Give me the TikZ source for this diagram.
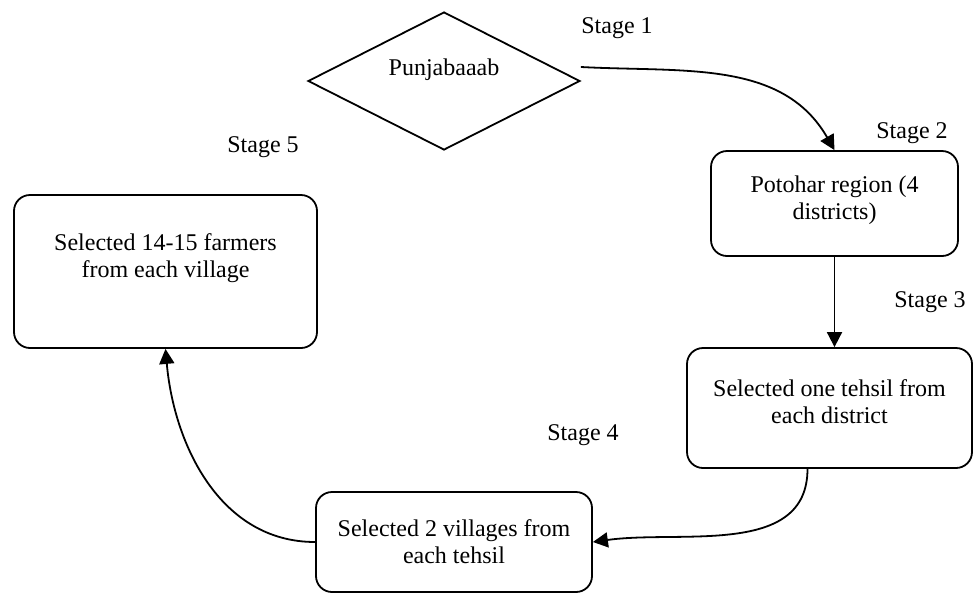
\documentclass[tikz,border=0pt]{standalone}
\usepackage{fontspec}
\setmainfont{Liberation Serif}
\usetikzlibrary{arrows.meta, shapes.geometric}

\begin{document}
\begin{tikzpicture}[
    x=0.5pt,
    y=-0.5pt,
    font=\fontsize{12}{13.5}\selectfont,
    box/.style={
        draw,
        line width=0.9pt,
        rounded corners=8pt,
        align=center,
        inner sep=0pt
    },
    losango/.style={
        draw,
        diamond,
        aspect=2,
        line width=0.9pt,
        inner sep=0pt,
        minimum width=136pt,
        minimum height=69pt,
        text depth=14pt
    },
    seta/.style={
        -{Triangle[length=7.5pt, width=7.5pt]},
        line width=0.9pt
    }
]

\useasboundingbox (0,0) rectangle (974,596);

% Punjab
\node[losango] (punjab) at (444,81) {Punjabaaab};

% Potohar
\node[box, minimum width=123.5pt, minimum height=52.5pt, text depth=6pt] (potohar) at (834.5,203.5)
{
    Potohar region (4\\
    districts)
};

% Tehsil
\node[box, minimum width=142.5pt, minimum height=60pt, text depth=6pt] (tehsil) at (829.5,408)
{
    Selected one tehsil from\\
    each district
};

% Villages
\node[box, minimum width=138pt, minimum height=50pt] (villages) at (454,542)
{
    Selected 2 villages from\\
    each tehsil
};

% Farmers
\node[box, minimum width=151.5pt, minimum height=76.5pt, text depth=16pt] (farmers) at (165.5,271.5)
{
    Selected 14-15 farmers\\
    from each village
};

% Stages
\node (stage1) at (617,28) {Stage 1};
\node (stage2) at (912,133) {Stage 2};
\node (stage3) at (930,302) {Stage 3};
\node (stage4) at (583,435) {Stage 4};
\node (stage5) at (263,147) {Stage 5};

% Setas
\draw[seta] ([yshift=7pt]punjab.east) to[out=-3, in=120] (potohar.north);
\draw[seta] (potohar.south) -- (potohar.south |- tehsil.north);
\draw[seta] ([xshift=-11pt]tehsil.south) to[out=-90, in=8] (villages.east);
\draw[seta] (villages.west) to[out=180, in=-85] (farmers.south);

\end{tikzpicture}
\end{document}
